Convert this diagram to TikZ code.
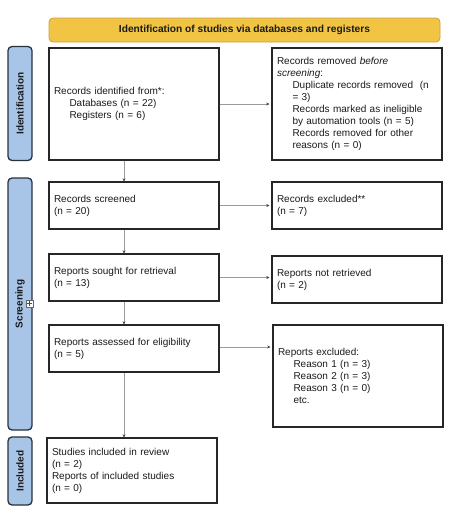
\documentclass[tikz,border=0pt]{standalone}
\usepackage{fontspec}
\setmainfont{Liberation Sans}
\usetikzlibrary{arrows.meta}
\definecolor{titlefill}{HTML}{F2C443}
\definecolor{titledraw}{HTML}{C9A045}
\definecolor{sidefill}{HTML}{A8C4E7}
\definecolor{sidedraw}{HTML}{26323F}
\definecolor{arrowgray}{HTML}{9A9A9A}
\definecolor{txt}{HTML}{1A1A1A}
\newcommand{\ind}{\hspace*{15.5pt}}
\tikzset{
  flowbox/.style={draw=black!85, line width=1.3pt, fill=white, align=left, anchor=center,
    inner xsep=5pt, inner ysep=2pt, text=txt,
    font=\fontsize{10}{12}\selectfont},
  sidebox/.style={draw=sidedraw, fill=sidefill, line width=1.3pt, rounded corners=4pt,
    rotate=90, minimum height=24pt, inner sep=0pt, text=txt,
    font=\bfseries\fontsize{10}{12}\selectfont},
  titlebox/.style={draw=titledraw, fill=titlefill, line width=0.8pt, rounded corners=4pt,
    minimum width=391pt, minimum height=24pt, inner sep=0pt, text=txt,
    font=\bfseries\fontsize{10.2}{12}\selectfont},
  flowarrow/.style={draw=arrowgray, line width=0.8pt,
    -{Stealth[length=3pt,width=3pt,color=black!75]}}
}
\begin{document}
\begin{tikzpicture}[x=1pt,y=-1pt]
\useasboundingbox (0,0) rectangle (451,514);
% title
\node[titlebox] (title) at (244.5,30) {Identification of studies via databases and registers};
% side labels
\node[sidebox, minimum width=114pt] (sid) at (20,103.5) {Identification};
\node[sidebox, minimum width=252pt] (sscr) at (20,304) {Screening};
\node[sidebox, minimum width=68pt] (sinc) at (20,471) {Included};
% small plus icon
\node[draw=black!60, fill=white, line width=0.5pt, minimum size=7pt, inner sep=0pt] (plus) at (29.5,303.5) {};
\draw[black!70, line width=0.6pt] ([xshift=1.5pt]plus.west) -- ([xshift=-1.5pt]plus.east)
  ([yshift=-1.5pt]plus.north) -- ([yshift=1.5pt]plus.south);
% left column
\node[flowbox, minimum width=170pt, minimum height=112pt, text width=160pt] (b1) at (134,104)
  {Records identified from*:\\\ind Databases (n = 22)\\\ind Registers (n = 6)};
\node[flowbox, minimum width=170pt, minimum height=47pt, text width=160pt] (b3) at (134,205.5)
  {Records screened\\(n = 20)};
\node[flowbox, minimum width=170pt, minimum height=47pt, text width=160pt] (b5) at (134,277.5)
  {Reports sought for retrieval\\(n = 13)};
\node[flowbox, minimum width=170pt, minimum height=47pt, text width=160pt] (b7) at (134,348.5)
  {Reports assessed for eligibility\\(n = 5)};
\node[flowbox, minimum width=170pt, minimum height=65pt, text width=160pt] (b9) at (132,470.5)
  {Studies included in review\\(n = 2)\\Reports of included studies\\(n = 0)};
% right column
\node[flowbox, minimum width=170pt, minimum height=112pt, text width=160pt] (b2) at (357,104)
  {Records removed \emph{before}\\\emph{screening}:\\\ind Duplicate records removed\ \ (n\\\ind = 3)\\\ind Records marked as ineligible\\\ind by automation tools (n = 5)\\\ind Records removed for other\\\ind reasons (n = 0)};
\node[flowbox, minimum width=170pt, minimum height=47pt, text width=160pt] (b4) at (357,205.5)
  {Records excluded**\\(n = 7)};
\node[flowbox, minimum width=170pt, minimum height=47pt, text width=160pt] (b6) at (357,279.5)
  {Reports not retrieved\\(n = 2)};
\node[flowbox, minimum width=170pt, minimum height=102pt, text width=160pt] (b8) at (358,376)
  {Reports excluded:\\\ind Reason 1 (n = 3)\\\ind Reason 2 (n = 3)\\\ind Reason 3 (n = 0)\\\ind etc.\\[12pt]};
% arrows
\coordinate (vx) at (124,0);
\draw[flowarrow] (b1.south -| vx) -- (b3.north -| vx);
\draw[flowarrow] (b3.south -| vx) -- (b5.north -| vx);
\draw[flowarrow] (b5.south -| vx) -- (b7.north -| vx);
\draw[flowarrow] (b7.south -| vx) -- (b9.north -| vx);
\draw[flowarrow] (b1.east) -- ([xshift=-2pt]b2.west |- b1.east);
\draw[flowarrow] (b3.east) -- ([xshift=-2pt]b4.west |- b3.east);
\draw[flowarrow] (b5.east) -- ([xshift=-2pt]b6.west |- b5.east);
\draw[flowarrow] ([yshift=1.5pt]b7.east) -- ([xshift=-2pt,yshift=1.5pt]b8.west |- b7.east);
\end{tikzpicture}
\end{document}
